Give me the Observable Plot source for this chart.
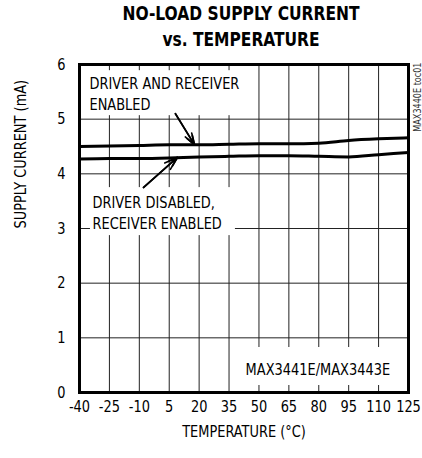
<!DOCTYPE html>
<html><head><meta charset="utf-8">
<script src="https://cdn.jsdelivr.net/npm/d3@7"></script>
<script src="https://cdn.jsdelivr.net/npm/@observablehq/plot@0.6"></script>
<style>
body{margin:0;background:#fff;}
#title{font-family:"Liberation Sans Narrow","DejaVu Sans Condensed",sans-serif;font-weight:bold;font-size:20px;line-height:26px;height:52px;margin-left:74px;width:334px;text-align:center;color:#000;transform:scaleX(0.86);transform-origin:50% 50%;}
</style></head><body>
<div id="title">NO-LOAD SUPPLY CURRENT<br>vs. TEMPERATURE</div>
<div id="chart"></div>
<script>
// data
const temperature = [-40, -25, -10, 5, 20, 35, 50, 65, 80, 95, 110, 125];
const bothEnabled = [4.50, 4.51, 4.52, 4.53, 4.53, 4.54, 4.55, 4.55, 4.56, 4.61, 4.64, 4.66];
const receiverOnly = [4.27, 4.28, 4.28, 4.29, 4.31, 4.32, 4.33, 4.33, 4.32, 4.31, 4.35, 4.39];
const xTicks = [-40, -25, -10, 5, 20, 35, 50, 65, 80, 95, 110, 125];
const yTicks = [0, 1, 2, 3, 4, 5, 6];

// annotations (data coordinates)
const labelText = ["DRIVER AND RECEIVER\nENABLED", "DRIVER DISABLED,\nRECEIVER ENABLED", "MAX3441E/MAX3443E"];
const labelX = [-35, -33.5, 43.3];
const labelY = [5.485, 3.309, 0.439];
const boxX1 = [-40, -34.5, 38.2];
const boxX2 = [43.3, 38.2, 121];
const boxY1 = [5.064, 2.870, 0.128];
const boxY2 = [5.887, 3.748, 0.823];
const arrowX1 = [8.1, -7.9];
const arrowY1 = [5.10, 3.75];
const arrowX2 = [17.7, 9.1];
const arrowY2 = [4.53, 4.30];

const series = [
  ...temperature.map((t, i) => ({t, v: bothEnabled[i], s: "both"})),
  ...temperature.map((t, i) => ({t, v: receiverOnly[i], s: "rx"}))
];
const boxes = boxX1.map((x1, i) => ({x1, x2: boxX2[i], y1: boxY1[i], y2: boxY2[i]}));
const labels = labelText.map((text, i) => ({text, x: labelX[i], y: labelY[i]}));
const arrows = arrowX1.map((x1, i) => ({x1, y1: arrowY1[i], x2: arrowX2[i], y2: arrowY2[i]}));

const font = '"Liberation Sans Narrow","DejaVu Sans Condensed",sans-serif';

const chart = Plot.plot({
  width: 422,
  height: 406,
  marginTop: 12,
  marginBottom: 66,
  marginLeft: 79,
  marginRight: 14,
  style: {fontFamily: font, fontSize: "16px", color: "black", background: "white"},
  x: {domain: [-40, 125]},
  y: {domain: [0, 6]},
  marks: [
    Plot.gridX(xTicks, {stroke: "#222", strokeOpacity: 1, strokeWidth: 1}),
    Plot.gridY(yTicks, {stroke: "#222", strokeOpacity: 1, strokeWidth: 1}),
    Plot.rect(boxes, {x1: "x1", x2: "x2", y1: "y1", y2: "y2", fill: "white"}),
    Plot.line(series, {x: "t", y: "v", z: "s", stroke: "black", strokeWidth: 3, curve: "monotone-x"}),
    Plot.arrow(arrows, {x1: "x1", y1: "y1", x2: "x2", y2: "y2", stroke: "black", strokeWidth: 1.6, headLength: 13, headAngle: 36}),
    Plot.arrow(arrows, {x1: "x1", y1: "y1", x2: "x2", y2: "y2", stroke: "black", strokeWidth: 1.8, headLength: 8, headAngle: 36}),
    Plot.text(labels, {x: "x", y: "y", text: "text", textAnchor: "start", lineHeight: 1.3, fill: "black", fontSize: 16}),
    Plot.axisX({ticks: xTicks, tickSize: 0, tickPadding: 8, tickFormat: d => String(d), label: null, fontSize: 16}),
    Plot.axisY({ticks: yTicks, tickSize: 0, tickPadding: 14, tickFormat: d => String(d), label: null, fontSize: 16}),
    Plot.text(["TEMPERATURE (°C)"], {frameAnchor: "bottom", dy: 44, fontSize: 16, fill: "black"}),
    Plot.text(["SUPPLY CURRENT (mA)"], {frameAnchor: "left", dx: -59, rotate: -90, fontSize: 16, fill: "black"}),
    Plot.text(["MAX3440E toc01"], {frameAnchor: "top-right", dx: 5, dy: -2, rotate: -90, textAnchor: "end", fontSize: 10, fill: "#333"}),
    Plot.frame({stroke: "black", strokeWidth: 3})
  ]
});

// condense the text horizontally (narrow typeface look) about each text's own anchor
chart.querySelectorAll("text").forEach(t => {
  let tr = t.getAttribute("transform");
  if (!tr) {
    const x = t.getAttribute("x") || 0, y = t.getAttribute("y") || 0;
    t.removeAttribute("x"); t.removeAttribute("y");
    tr = `translate(${x},${y})`;
  }
  t.setAttribute("transform", tr + " scale(0.9,1)");
});
document.getElementById("chart").appendChild(chart);
</script>
</body></html>
